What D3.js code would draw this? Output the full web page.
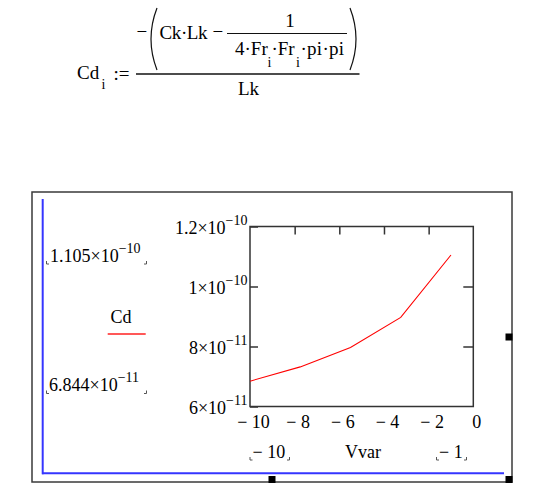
<!DOCTYPE html>
<html>
<head>
<meta charset="utf-8">
<script src="https://cdn.jsdelivr.net/npm/d3@7"></script>
<style>
  html, body { margin: 0; padding: 0; background: #fff; }
  svg { display: block; }
  text { font-family: "Liberation Serif", "Times New Roman", serif; fill: #000; }
</style>
</head>
<body>
<svg id="chart" width="558" height="489"></svg>
<script>
// ---- data ----
const vvar = [-10, -7.75, -5.5, -3.25, -1];
const cd = [6.844e-11, 7.32e-11, 7.97e-11, 8.97e-11, 1.105e-10];
const xTicks = [-10, -8, -6, -4, -2, 0];
const xTickLabels = ["\u2212 10", "\u2212 8", "\u2212 6", "\u2212 4", "\u2212 2", "0"];
const yTicks = [6e-11, 8e-11, 1e-10, 1.2e-10];
const yTickMantissa = ["6\u00d710", "8\u00d710", "1\u00d710", "1.2\u00d710"];
const yTickExponent = ["\u221211", "\u221211", "\u221210", "\u221210"];
const legendMax = ["1.105\u00d710", "\u221210"];
const legendMin = ["6.844\u00d710", "\u221211"];
const xLimits = ["\u2212 10", "\u2212 1"];

const svg = d3.select("#chart");
const FS = 18, SUP = 14;

// ---- formula ----
const f = svg.append("g");
const fs = 19;
f.append("text").attr("x", 77).attr("y", 78.5).attr("font-size", fs).text("Cd");
f.append("text").attr("x", 101.5).attr("y", 89).attr("font-size", 14).text("i");
f.append("text").attr("x", 113.5).attr("y", 79.5).attr("font-size", fs).text(":=");
f.append("text").attr("x", 136.5).attr("y", 38).attr("font-size", fs).text("\u2212");
f.append("path").attr("d", "M157,8 Q145,39 157,70").attr("fill", "none").attr("stroke", "#111").attr("stroke-width", 1.2);
f.append("path").attr("d", "M350,8 Q362,39 350,70").attr("fill", "none").attr("stroke", "#111").attr("stroke-width", 1.2);
f.append("text").attr("x", 159.5).attr("y", 38.5).attr("font-size", fs)
  .attr("textLength", 48).attr("lengthAdjust", "spacing").text("Ck\u00b7Lk");
f.append("text").attr("x", 212.5).attr("y", 38).attr("font-size", fs).text("\u2212");
f.append("line").attr("x1", 227).attr("x2", 347).attr("y1", 33.5).attr("y2", 33.5).attr("stroke", "#111").attr("stroke-width", 1.2);
f.append("text").attr("x", 290).attr("y", 27).attr("font-size", fs).attr("text-anchor", "middle").text("1");
f.append("text").attr("x", 235).attr("y", 55).attr("font-size", fs).text("4\u00b7Fr");
f.append("text").attr("x", 267.5).attr("y", 66.5).attr("font-size", 14).text("i");
f.append("text").attr("x", 271.5).attr("y", 55).attr("font-size", fs).attr("textLength", 23).attr("lengthAdjust", "spacing").text("\u00b7Fr");
f.append("text").attr("x", 296).attr("y", 66.5).attr("font-size", 14).text("i");
f.append("text").attr("x", 300.5).attr("y", 55).attr("font-size", fs).attr("textLength", 43.5).attr("lengthAdjust", "spacing").text("\u00b7pi\u00b7pi");
f.append("line").attr("x1", 136).attr("x2", 359.5).attr("y1", 74).attr("y2", 74).attr("stroke", "#111").attr("stroke-width", 1.4);
f.append("text").attr("x", 248.5).attr("y", 95).attr("font-size", fs).attr("text-anchor", "middle").text("Lk");

// ---- outer region frame ----
svg.append("rect").attr("x", 32).attr("y", 192).attr("width", 480).attr("height", 290)
  .attr("fill", "none").attr("stroke", "#3a3a3a").attr("stroke-width", 1.5);
svg.append("line").attr("x1", 42.7).attr("x2", 42.7).attr("y1", 199).attr("y2", 474.3)
  .attr("stroke", "#3535ff").attr("stroke-width", 2);
svg.append("line").attr("x1", 42).attr("x2", 504).attr("y1", 473.3).attr("y2", 473.3)
  .attr("stroke", "#3535ff").attr("stroke-width", 2);
[[505.5, 333.5], [268.5, 476], [505.5, 476]].forEach(p => {
  svg.append("rect").attr("x", p[0]).attr("y", p[1]).attr("width", 7).attr("height", 7).attr("fill", "#000");
});

// ---- scales ----
const L = 250, R = 473.3, T = 226.5, B = 406.5;
const x = d3.scaleLinear().domain([-10, 0]).range([L, R]);
const y = d3.scaleLinear().domain([6e-11, 1.2e-10]).range([B, T]);

const plot = svg.append("g");

// bottom axis: labels only
const gx = plot.append("g").attr("transform", `translate(0,${B})`)
  .call(d3.axisBottom(x).tickValues(xTicks).tickSize(0).tickFormat((d, i) => xTickLabels[i]));
gx.select(".domain").remove();
gx.selectAll("text").attr("y", 21.5).attr("dy", 0).attr("dx", 3)
  .attr("font-size", FS).attr("font-family", "Liberation Serif, serif").attr("fill", "#000");

// top axis: inward ticks
const gt = plot.append("g").attr("transform", `translate(0,${T})`)
  .call(d3.axisTop(x).tickValues([-8, -6, -4, -2]).tickSize(-8).tickFormat(""));
gt.select(".domain").remove();
gt.selectAll("line").attr("stroke", "#333").attr("stroke-width", 1.5);

// left axis
const gy = plot.append("g").attr("transform", `translate(${L},0)`)
  .call(d3.axisLeft(y).tickValues(yTicks).tickSize(-8).tickPadding(3).tickFormat(""));
gy.select(".domain").remove();
gy.selectAll("line").attr("stroke", "#333").attr("stroke-width", 1.5);
gy.selectAll(".tick text").each(function(d, i) {
  const t = d3.select(this).attr("dy", 7).attr("x", -2.5).attr("text-anchor", "end")
    .attr("font-size", FS).attr("font-family", "Liberation Serif, serif").attr("fill", "#000");
  t.text(null);
  t.append("tspan").text(yTickMantissa[i]);
  t.append("tspan").attr("dy", -9).attr("font-size", SUP).text(yTickExponent[i]);
});

// right axis: inward ticks
const gr = plot.append("g").attr("transform", `translate(${R},0)`)
  .call(d3.axisRight(y).tickValues([8e-11, 1e-10]).tickSize(-10).tickFormat(""));
gr.select(".domain").remove();
gr.selectAll("line").attr("stroke", "#333").attr("stroke-width", 1.5);

// plot box
plot.append("rect").attr("x", L).attr("y", T).attr("width", R - L).attr("height", B - T)
  .attr("fill", "none").attr("stroke", "#333").attr("stroke-width", 1.5);

// data line
const pts = vvar.map((v, i) => [v, cd[i]]);
plot.append("path").datum(pts)
  .attr("d", d3.line().x(d => x(d[0])).y(d => y(d[1])))
  .attr("fill", "none").attr("stroke", "#ff0000").attr("stroke-width", 1.1);

// ---- legend / limit labels ----
function corner(xp, yp, side) {
  const d = side === "l" ? `M${xp},${yp - 3} L${xp},${yp} L${xp + 2.5},${yp}` : `M${xp - 2.5},${yp} L${xp},${yp} L${xp},${yp - 3}`;
  svg.append("path").attr("d", d).attr("fill", "none").attr("stroke", "#555").attr("stroke-width", 1);
}
function supLabel(xp, yp, parts) {
  const t = svg.append("text").attr("x", xp).attr("y", yp).attr("font-size", FS);
  t.append("tspan").text(parts[0]);
  t.append("tspan").attr("dy", -9).attr("font-size", SUP).text(parts[1]);
}
supLabel(50, 261.7, legendMax);
corner(46.5, 264, "l"); corner(146.5, 264, "r");
svg.append("text").attr("x", 110.5).attr("y", 323).attr("font-size", FS).text("Cd");
svg.append("line").attr("x1", 107.7).attr("x2", 145.7).attr("y1", 334).attr("y2", 334)
  .attr("stroke", "#ff2020").attr("stroke-width", 1.5);
supLabel(49, 391, legendMin);
corner(46.5, 393.5, "l"); corner(146.5, 393.5, "r");

svg.append("text").attr("x", 252.5).attr("y", 458).attr("font-size", FS).text(xLimits[0]);
corner(250, 460, "l"); corner(289.5, 460, "r");
svg.append("text").attr("x", 363).attr("y", 458).attr("font-size", FS).attr("text-anchor", "middle").text("Vvar");
svg.append("text").attr("x", 439).attr("y", 458).attr("font-size", FS).text(xLimits[1]);
corner(436.5, 460, "l"); corner(466.5, 460, "r");
</script>
</body>
</html>
